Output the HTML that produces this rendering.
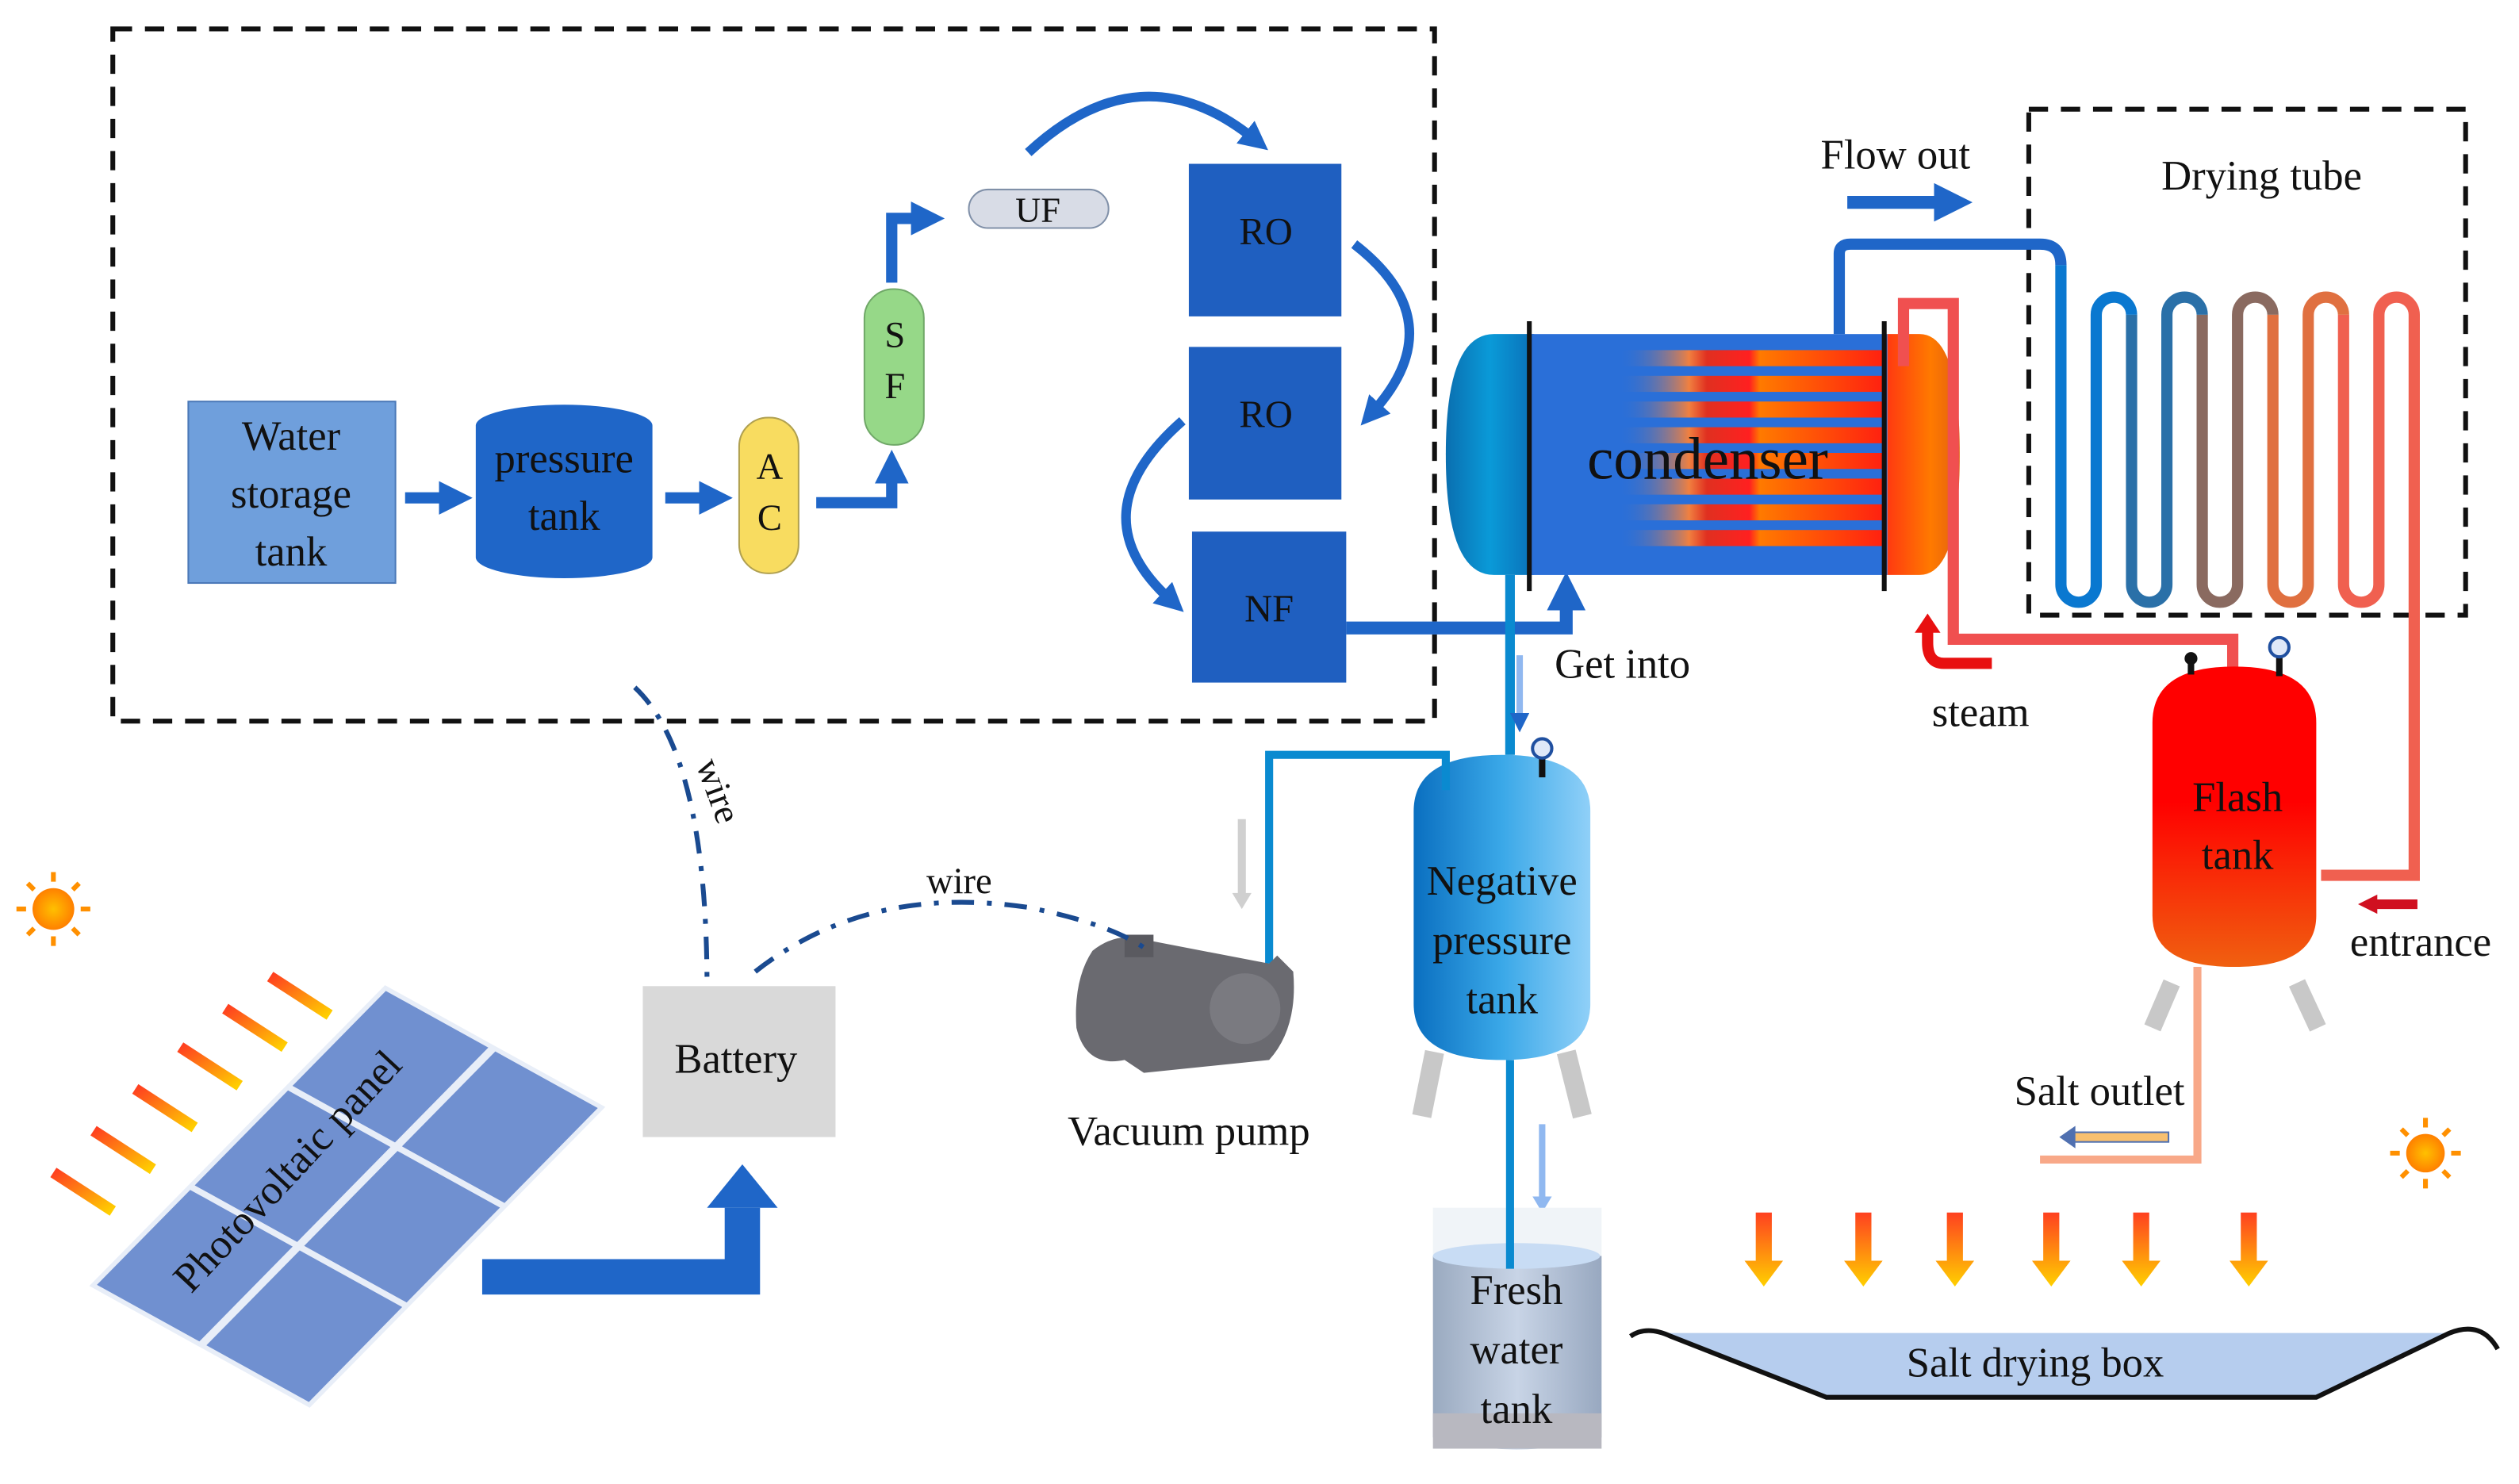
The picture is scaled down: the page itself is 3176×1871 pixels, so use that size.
<!DOCTYPE html>
<html><head><meta charset="utf-8"><style>html,body{margin:0;padding:0;background:#fff}svg{display:block}text{font-family:"Liberation Serif",serif;fill:#111}</style></head><body>
<svg width="3176" height="1871" viewBox="0 0 1568 924" xmlns="http://www.w3.org/2000/svg">
<defs>
<linearGradient id="lh" x1="0" x2="1"><stop offset="0" stop-color="#0a6fb0"/><stop offset="0.5" stop-color="#0a9ad8"/><stop offset="1" stop-color="#0a70b8"/></linearGradient>
<linearGradient id="rh" x1="0" x2="1"><stop offset="0" stop-color="#ff3a10"/><stop offset="0.6" stop-color="#ff7a00"/><stop offset="1" stop-color="#e06010"/></linearGradient>
<linearGradient id="st" x1="0" x2="1"><stop offset="0" stop-color="#2a6fd8" stop-opacity="0"/><stop offset="0.25" stop-color="#2a6fd8" stop-opacity="0"/><stop offset="0.45" stop-color="#f08040"/><stop offset="0.5" stop-color="#e03020"/><stop offset="0.62" stop-color="#ff2020"/><stop offset="0.65" stop-color="#ff7a00"/><stop offset="1" stop-color="#ff2010"/></linearGradient>
<linearGradient id="ng" x1="0" x2="1"><stop offset="0" stop-color="#0a6fc0"/><stop offset="0.5" stop-color="#3aa8e8"/><stop offset="1" stop-color="#90d0f8"/></linearGradient>
<linearGradient id="fg" x1="0" y1="0" x2="0" y2="1"><stop offset="0" stop-color="#ff0000"/><stop offset="0.45" stop-color="#ff0000"/><stop offset="1" stop-color="#f06010"/></linearGradient>
<linearGradient id="fw" x1="0" x2="1"><stop offset="0" stop-color="#9aaac0"/><stop offset="0.5" stop-color="#c8d4e6"/><stop offset="1" stop-color="#98a8c0"/></linearGradient>
<linearGradient id="oa" x1="0" y1="0" x2="0" y2="1"><stop offset="0" stop-color="#ff4020"/><stop offset="1" stop-color="#ffd000"/></linearGradient>
<linearGradient id="ra" x1="0" y1="0" x2="1" y2="1"><stop offset="0" stop-color="#ff4020"/><stop offset="1" stop-color="#ffd000"/></linearGradient>
<radialGradient id="sun"><stop offset="0" stop-color="#ffc000"/><stop offset="1" stop-color="#ff8000"/></radialGradient>
<marker id="ah" markerWidth="3" markerHeight="3" refX="1" refY="1.5" orient="auto"><path d="M0,0L3,1.5L0,3z" fill="#1f66c8"/></marker>
</defs>

<rect x="70" y="18" width="823" height="431" fill="none" stroke="#111" stroke-width="3" stroke-dasharray="12,8"/>
<rect x="1263" y="68" width="272" height="315" fill="none" stroke="#111" stroke-width="3" stroke-dasharray="12,8"/>

<rect x="117" y="250" width="129" height="113" fill="#6f9fdc" stroke="#4a78b8"/>
<text x="181" y="280" font-size="26" text-anchor="middle">Water</text>
<text x="181" y="316" font-size="26" text-anchor="middle">storage</text>
<text x="181" y="352" font-size="26" text-anchor="middle">tank</text>
<path d="M252,310H280" stroke="#1f66c8" stroke-width="7" marker-end="url(#ah)"/>
<path d="M296,265 A55,13 0 0 1 406,265 V347 A55,13 0 0 1 296,347Z" fill="#1f66c8"/>
<text x="351" y="294" font-size="26" text-anchor="middle">pressure</text>
<text x="351" y="330" font-size="26" text-anchor="middle">tank</text>
<path d="M414,310H442" stroke="#1f66c8" stroke-width="7" marker-end="url(#ah)"/>
<rect x="460" y="260" width="37" height="97" rx="18" fill="#f8dc60" stroke="#b0a050"/>
<text x="479" y="298" font-size="23" text-anchor="middle">A</text>
<text x="479" y="330" font-size="23" text-anchor="middle">C</text>
<path d="M508,313H555V294" stroke="#1f66c8" stroke-width="7" fill="none" marker-end="url(#ah)"/>
<rect x="538" y="180" width="37" height="97" rx="18" fill="#96d888" stroke="#70a868"/>
<text x="557" y="216" font-size="23" text-anchor="middle">S</text>
<text x="557" y="248" font-size="23" text-anchor="middle">F</text>
<path d="M555,176V136H574" stroke="#1f66c8" stroke-width="7" fill="none" marker-end="url(#ah)"/>
<rect x="603" y="118" width="87" height="24" rx="12" fill="#d8dce6" stroke="#8090a8"/>
<text x="646" y="138" font-size="22" text-anchor="middle">UF</text>
<path d="M640,95 Q710,30 780,86" stroke="#1f66c8" stroke-width="6" fill="none" marker-end="url(#ah)"/>
<rect x="740" y="102" width="95" height="95" fill="#1f5fc0"/>
<rect x="740" y="216" width="95" height="95" fill="#1f5fc0"/>
<rect x="742" y="331" width="96" height="94" fill="#1f5fc0"/>
<text x="788" y="152" font-size="24" text-anchor="middle">RO</text>
<text x="788" y="266" font-size="24" text-anchor="middle">RO</text>
<text x="790" y="387" font-size="24" text-anchor="middle">NF</text>
<path d="M843,152 Q905,200 855,256" stroke="#1f66c8" stroke-width="6" fill="none" marker-end="url(#ah)"/>
<path d="M736,262 Q670,320 728,373" stroke="#1f66c8" stroke-width="6" fill="none" marker-end="url(#ah)"/>
<path d="M838,391H975V372" stroke="#1f66c8" stroke-width="8" fill="none" marker-end="url(#ah)"/>

<path d="M930,208 H955 V358 H930 Q900,358 900,283 Q900,208 930,208Z" fill="url(#lh)"/>
<rect x="952" y="208" width="223" height="150" fill="#2a6fd8"/>
<g fill="url(#st)">
<rect x="952" y="218" width="221" height="10"/><rect x="952" y="234" width="221" height="10"/><rect x="952" y="250" width="221" height="10"/><rect x="952" y="266" width="221" height="10"/><rect x="952" y="282" width="221" height="10"/><rect x="952" y="298" width="221" height="10"/><rect x="952" y="314" width="221" height="10"/><rect x="952" y="330" width="221" height="10"/></g>
<path d="M1175,208 H1195 Q1220,208 1220,283 Q1220,358 1195,358 H1175Z" fill="url(#rh)"/>
<path d="M952,200V368M1173,200V368" stroke="#111" stroke-width="3"/>
<text x="1063" y="298" font-size="37" text-anchor="middle">condenser</text>
<path d="M940,358V470" stroke="#0a8ad0" stroke-width="6"/>
<path d="M946,408V448" stroke="#90b8f0" stroke-width="4" marker-end="url(#ah)"/>
<text x="1010" y="422" font-size="26" text-anchor="middle">Get into</text>
<text x="1180" y="105" font-size="26" text-anchor="middle">Flow out</text>
<path d="M1150,126H1212" stroke="#1f66c8" stroke-width="8" marker-end="url(#ah)"/>
<text x="1408" y="118" font-size="26" text-anchor="middle">Drying tube</text>

<path d="M1145,208V158Q1145,152 1152,152H1270Q1283,152 1283,165" stroke="#1f66c8" stroke-width="7" fill="none"/>
<g fill="none" stroke-width="7">
<path d="M1283,165V364A11,11 0 0 0 1305,364V196A11,11 0 0 1 1327,196" stroke="#0a78d0"/>
<path d="M1327,196V364A11,11 0 0 0 1349,364V196A11,11 0 0 1 1371,196" stroke="#2a70a8"/>
<path d="M1371,196V364A11,11 0 0 0 1393,364V196A11,11 0 0 1 1415,196" stroke="#8a6a60"/>
<path d="M1415,196V364A11,11 0 0 0 1437,364V196A11,11 0 0 1 1459,196" stroke="#e07040"/>
<path d="M1459,196V364A11,11 0 0 0 1481,364V196A11,11 0 0 1 1503,196V545H1445" stroke="#f06050"/>
</g>
<path d="M1185,228V189H1216V398H1390V418" stroke="#f05050" stroke-width="7" fill="none"/>
<path d="M1240,413H1210Q1200,413 1200,400V392" stroke="#e81010" stroke-width="7" fill="none"/>
<path d="M1192,394L1200,382L1208,394Z" fill="#e81010"/>
<text x="1233" y="452" font-size="26" text-anchor="middle">steam</text>

<path d="M1352,612L1340,640M1430,612L1443,640" stroke="#c8c8c8" stroke-width="11"/>
<path d="M1340,450Q1340,415 1391,415Q1442,415 1442,450V570Q1442,602 1391,602Q1340,602 1340,570Z" fill="url(#fg)"/>
<rect x="1362" y="408" width="4" height="12" fill="#111"/><circle cx="1364" cy="410" r="4" fill="#111"/>
<rect x="1417" y="405" width="4" height="16" fill="#111"/><circle cx="1419" cy="403" r="6" fill="#dfe8f8" stroke="#2050a0" stroke-width="2"/>
<text x="1393" y="505" font-size="26" text-anchor="middle">Flash</text>
<text x="1393" y="541" font-size="26" text-anchor="middle">tank</text>
<path d="M1505,563H1478" stroke="#d01020" stroke-width="6"/><path d="M1480,557L1468,563L1480,569Z" fill="#d01020"/>
<text x="1507" y="595" font-size="26" text-anchor="middle">entrance</text>
<path d="M1368,602V722H1270" stroke="#f8a888" stroke-width="5" fill="none"/>
<rect x="1290" y="705" width="60" height="6" fill="#f8c070" stroke="#5070b0"/>
<path d="M1292,701L1282,708L1292,715Z" fill="#5070b0"/>
<text x="1307" y="688" font-size="26" text-anchor="middle">Salt outlet</text>

<g transform="translate(1510,718)"><circle r="12" fill="url(#sun)"/><g stroke="#ff9000" stroke-width="3"><path d="M0,-22V-16M0,16V22M-22,0H-16M16,0H22M-15,-15L-11,-11M15,15L11,11M-15,15L-11,11M15,-15L11,-11"/></g></g>
<g transform="translate(33,566)"><circle r="13" fill="url(#sun)"/><g stroke="#ff9000" stroke-width="3"><path d="M0,-23V-17M0,17V23M-23,0H-17M17,0H23M-16,-16L-12,-12M16,16L12,12M-16,16L-12,12M16,-16L12,-12"/></g></g>

<g fill="url(#oa)">
<path d="M1093,755h10v30h7l-12,16l-12,-16h7z"/><path d="M1155,755h10v30h7l-12,16l-12,-16h7z"/><path d="M1212,755h10v30h7l-12,16l-12,-16h7z"/><path d="M1272,755h10v30h7l-12,16l-12,-16h7z"/><path d="M1328,755h10v30h7l-12,16l-12,-16h7z"/><path d="M1395,755h10v30h7l-12,16l-12,-16h7z"/></g>
<path d="M1035,830H1525L1442,870H1137Z" fill="#b6cdee"/>
<path d="M1015,832Q1025,825 1040,832L1137,870H1442L1525,830Q1545,822 1555,840" fill="none" stroke="#111" stroke-width="3"/>
<text x="1267" y="857" font-size="26" text-anchor="middle">Salt drying box</text>

<path d="M893,655L885,695M975,655L985,695" stroke="#c8c8c8" stroke-width="12"/>
<path d="M880,505Q880,470 935,470Q990,470 990,505V625Q990,660 935,660Q880,660 880,625Z" fill="url(#ng)"/>
<path d="M790,600V470H900V492" stroke="#0a8ad0" stroke-width="5" fill="none"/>
<rect x="958" y="470" width="4" height="14" fill="#111"/><circle cx="960" cy="466" r="6" fill="#dfe8f8" stroke="#2050a0" stroke-width="2"/>
<text x="935" y="557" font-size="26" text-anchor="middle">Negative</text>
<text x="935" y="594" font-size="26" text-anchor="middle">pressure</text>
<text x="935" y="631" font-size="26" text-anchor="middle">tank</text>
<path d="M773,510V560" stroke="#d0d0d0" stroke-width="5"/><path d="M767,556L773,566L779,556Z" fill="#d0d0d0"/>
<path d="M960,700V748" stroke="#90b8f0" stroke-width="4"/><path d="M954,745L960,755L966,745Z" fill="#90b8f0"/>

<rect x="892" y="752" width="105" height="40" fill="#f0f4f8"/>
<path d="M892,782V895Q944,910 997,895V782Z" fill="url(#fw)"/>
<ellipse cx="944" cy="782" rx="52" ry="8" fill="#c8dcf4"/>
<rect x="892" y="880" width="105" height="22" fill="#b8b8c0"/>
<path d="M940,660V790" stroke="#0a8ad0" stroke-width="5"/>
<text x="944" y="812" font-size="26" text-anchor="middle">Fresh</text>
<text x="944" y="849" font-size="26" text-anchor="middle">water</text>
<text x="944" y="886" font-size="26" text-anchor="middle">tank</text>

<g fill="#6a6a70">
<path d="M680,592Q668,610 670,640Q676,665 700,660L712,668L790,660Q808,640 805,605L795,595L790,600L712,585Q695,580 680,592Z"/>
<circle cx="775" cy="628" r="22" fill="#7a7a80"/>
<rect x="700" y="582" width="18" height="14" fill="#5a5a60"/></g>
<text x="740" y="713" font-size="26" text-anchor="middle">Vacuum pump</text>

<rect x="400" y="614" width="120" height="94" fill="#d9d9d9"/>
<text x="458" y="668" font-size="26" text-anchor="middle">Battery</text>
<path d="M300,795H462V752" stroke="#1f66c8" stroke-width="22" fill="none"/>
<path d="M440,752L462,725L484,752Z" fill="#1f66c8"/>

<path d="M395,428Q440,470 440,615" stroke="#1a4a90" stroke-width="3" fill="none" stroke-dasharray="14,8,3,8"/>
<text x="440" y="495" font-size="23" transform="rotate(70 440 495)" text-anchor="middle">wire</text>
<path d="M470,605Q540,550 640,565Q690,575 712,590" stroke="#1a4a90" stroke-width="3" fill="none" stroke-dasharray="14,8,3,8"/>
<text x="597" y="556" font-size="23" text-anchor="middle">wire</text>

<g fill="none" stroke="url(#ra)" stroke-width="7">
<path d="M168,608L205,632"/><path d="M140,628L177,652"/><path d="M112,652L149,676"/><path d="M84,678L121,702"/><path d="M58,704L95,728"/><path d="M33,730L70,754"/></g>

<g transform="matrix(0.874,0.483,-0.700,0.712,240,617)">
<rect x="-3" y="-3" width="157" height="263" fill="#e8eef8"/>
<g fill="#7090d0">
<rect x="0" y="0" width="73" height="83"/><rect x="78" y="0" width="73" height="83"/>
<rect x="0" y="87" width="73" height="83"/><rect x="78" y="87" width="73" height="83"/>
<rect x="0" y="174" width="73" height="83"/><rect x="78" y="174" width="73" height="83"/></g>
</g>
<text x="185" y="735" font-size="26" transform="rotate(-47 185 735)" text-anchor="middle">Photovoltaic panel</text>
</svg>
</body></html>
